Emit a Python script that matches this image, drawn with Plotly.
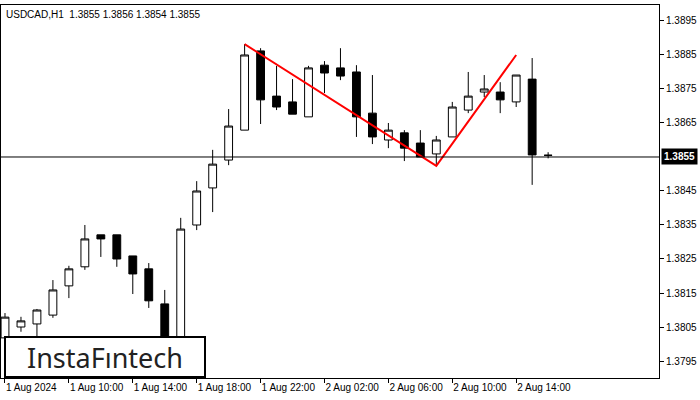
import plotly.graph_objects as go

opens  = [1.38018,1.38050,1.38059,1.38085,1.38171,1.38227,1.38321,1.38321,1.38259,1.38221,1.38118,1.37985,1.38350,1.38459,1.38541,1.38629,1.38862,1.38729,1.38712,1.38668,1.38820,1.38812,1.38800,1.38679,1.38600,1.38621,1.38591,1.38559,1.38609,1.38688,1.38741,1.38741,1.38712,1.38779,1.38555]
highs  = [1.38091,1.38080,1.38103,1.38188,1.38230,1.38350,1.38321,1.38321,1.38259,1.38238,1.38159,1.38371,1.38479,1.38571,1.38691,1.38882,1.38870,1.38818,1.38779,1.38818,1.38832,1.38870,1.38820,1.38791,1.38650,1.38629,1.38629,1.38612,1.38712,1.38800,1.38791,1.38770,1.38791,1.38841,1.38564]
lows   = [1.38012,1.38036,1.38012,1.38077,1.38135,1.38218,1.38256,1.38227,1.38147,1.38106,1.37953,1.37953,1.38335,1.38388,1.38526,1.38629,1.38647,1.38688,1.38676,1.38668,1.38738,1.38776,1.38609,1.38588,1.38576,1.38538,1.38550,1.38524,1.38609,1.38679,1.38726,1.38679,1.38697,1.38468,1.38546]
closes = [1.38079,1.38068,1.38100,1.38159,1.38221,1.38309,1.38309,1.38250,1.38206,1.38127,1.37983,1.38338,1.38450,1.38529,1.38641,1.38850,1.38718,1.38697,1.38676,1.38812,1.38797,1.38788,1.38668,1.38609,1.38629,1.38576,1.38550,1.38600,1.38697,1.38729,1.38750,1.38718,1.38791,1.38556,1.38555]
tick_pos = [0,4,8,12,16,20,24,28,32]
tick_labels = ["1 Aug 2024","1 Aug 10:00","1 Aug 14:00","1 Aug 18:00","1 Aug 22:00","2 Aug 02:00","2 Aug 06:00","2 Aug 10:00","2 Aug 14:00"]
pattern_x = [15,27,32]
pattern_y = [1.38882,1.38524,1.38850]
price_ticks = [1.3795,1.3805,1.3815,1.3825,1.3835,1.3845,1.3865,1.3875,1.3885,1.3895]
current = 1.3855

x = list(range(len(opens)))
fig = go.Figure()
fig.add_trace(go.Candlestick(x=x, open=opens, high=highs, low=lows, close=closes,
    increasing=dict(fillcolor="white", line=dict(color="black", width=1)),
    decreasing=dict(fillcolor="black", line=dict(color="black", width=1)),
    whiskerwidth=0, showlegend=False, hoverinfo="skip"))
fig.add_trace(go.Scatter(x=pattern_x, y=pattern_y, mode="lines",
    line=dict(color="#ff0000", width=2), showlegend=False, hoverinfo="skip"))
fig.add_hline(y=current, line=dict(color="black", width=1))
fig.update_layout(
    width=700, height=400, margin=dict(l=1, r=41, t=5, b=22, autoexpand=False),
    paper_bgcolor="white", plot_bgcolor="white",
    font=dict(family="Liberation Sans", size=10, color="black"),
    xaxis=dict(range=[-0.25, 40.94], tickvals=tick_pos, ticktext=tick_labels, automargin=False,
               showgrid=False, zeroline=False, rangeslider=dict(visible=False),
               showline=True, linecolor="black", mirror=True, ticks="outside",
               ticklabelposition="outside right",
               ticklen=4, tickcolor="black", tickfont=dict(size=10)),
    yaxis=dict(range=[1.37900, 1.38997], side="right", tickvals=price_ticks, automargin=False,
               ticktext=[f"{v:.4f}" for v in price_ticks], showgrid=False, zeroline=False,
               showline=True, linecolor="black", mirror=True, ticks="outside",
               ticklen=4, tickcolor="black", tickfont=dict(size=10)),
    annotations=[
        dict(xref="paper", yref="paper", x=0.005, y=0.995, xanchor="left", yanchor="top",
             text="USDCAD,H1  1.3855 1.3856 1.3854 1.3855", showarrow=False, font=dict(size=10)),
        dict(xref="paper", yref="y", x=1.0, y=current, xanchor="left", yanchor="middle",
             text="<b>1.3855</b>", showarrow=False, bgcolor="black", font=dict(color="white", size=10),
             borderpad=2, xshift=2),
        dict(xref="paper", yref="paper", x=0.004, y=0.0, xanchor="left", yanchor="bottom",
             text="InstaFıntech", showarrow=False, bgcolor="white", bordercolor="black",
             borderwidth=2, borderpad=3, width=192, height=32,
             font=dict(family="Noto Sans", size=27, color="#222")),
    ])
fig.write_html("out.html", config={"displayModeBar": False},
               post_script="document.body.style.margin='0';document.body.style.overflow='hidden';")
